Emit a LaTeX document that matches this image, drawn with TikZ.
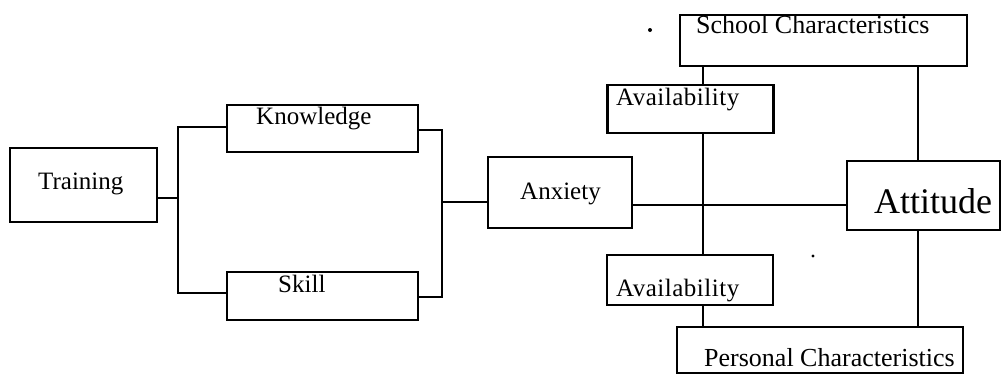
\documentclass[tikz,border=0pt]{standalone}
\usepackage{fontspec}
\setmainfont{Liberation Serif}
\begin{document}
    \begin{tikzpicture}[x=.5pt,y=-.5pt,line width=1.2pt,
        box/.style={draw,rectangle,inner sep=0pt},
        lbl/.style={anchor=base west,inner sep=0pt,font=\fontsize{12.5}{14}\selectfont},
        big/.style={lbl,font=\fontsize{18}{20}\selectfont},
        wide/.style={lbl,font=\fontsize{13}{15}\selectfont},
        spaced/.style={lbl,font=\fontsize{12.5}{14}\selectfont\addfontfeature{LetterSpace=2}}]
        \useasboundingbox (0,0) rectangle (1002,377);
        \node [box,minimum width=73.5pt,minimum height=37pt] (train) at (83.5,185) {};
        \node [box,minimum width=95.5pt,minimum height=23.5pt] (know) at (322.5,128.5) {};
        \node [box,minimum width=95.5pt,minimum height=24pt] (skill) at (322.5,296) {};
        \node [box,minimum width=72pt,minimum height=35.5pt] (anx) at (560,192.5) {};
        \node [box,minimum width=76.5pt,minimum height=34.5pt] (att) at (923.5,195.5) {};
        \node [box,minimum width=143.5pt,minimum height=25.5pt] (school) at (823.5,40.5) {};
        \node [box,minimum width=83pt,minimum height=24pt] (avtop) at (690.5,109) {};
        \node [box,minimum width=83pt,minimum height=25pt] (avbot) at (690,280) {};
        \node [box,minimum width=143pt,minimum height=23pt] (pers) at (820,350) {};
        \node [lbl] (trainT) at (37,189) {Training};
        \node [lbl] (knowT) at (255,124) {Knowledge};
        \node [lbl] (skillT) at (277,292) {Skill};
        \node [lbl] (anxT) at (519,199) {Anxiety};
        \node [big] (attT) at (873,213) {Attitude};
        \node [wide] (schoolT) at (695,33) {School Characteristics};
        \node [spaced] (avtopT) at (615,105) {Availability};
        \node [spaced] (avbotT) at (615,296) {Availability};
        \node [wide] (persT) at (703,366) {Personal Characteristics};
        \coordinate (jl) at (178,198);
        \coordinate (jk) at (178,127);
        \coordinate (js) at (178,293);
        \coordinate (jr) at (442,202);
        \coordinate (jrk) at (442,130);
        \coordinate (jrs) at (442,297);
        \coordinate (mid) at (740,205);
        \coordinate (xa) at (703,0);
        \coordinate (xb) at (918,0);
        \draw (train.east |- jl) -- (jl);
        \draw (know.west |- jk) -- (jk) -- (js) -- (skill.west |- js);
        \draw (know.east |- jrk) -- (jrk) -- (jrs) -- (skill.east |- jrs);
        \draw (jr) -- (anx.west |- jr);
        \draw (anx.east |- mid) -- (att.west |- mid);
        \draw (school.south -| xa) -- (avtop.north -| xa);
        \draw (avtop.south -| xa) -- (avbot.north -| xa);
        \draw (avbot.south -| xa) -- (pers.north -| xa);
        \draw (school.south -| xb) -- (att.north -| xb);
        \draw (att.south -| xb) -- (pers.north -| xb);
        \fill (650,30) circle (1pt);
        \fill (813,256) circle (.8pt);
    \end{tikzpicture}
\end{document}
